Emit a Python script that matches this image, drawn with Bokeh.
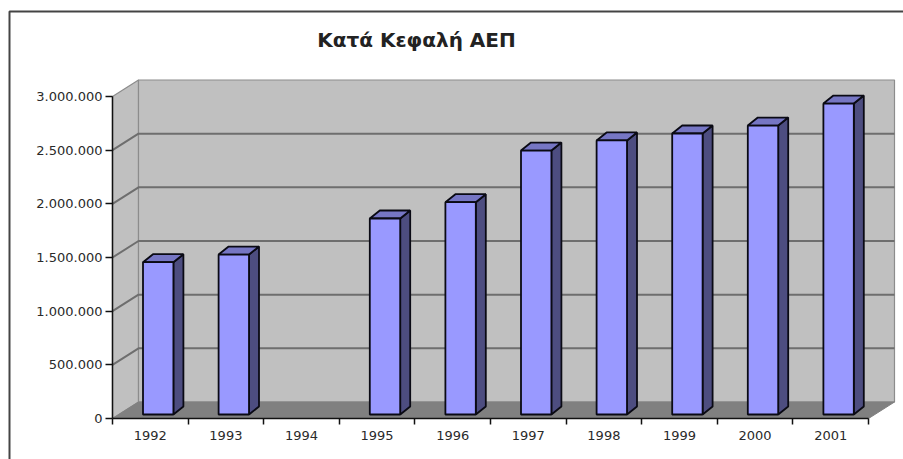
from bokeh.plotting import figure
from bokeh.models import Range1d, LinearAxis, FixedTicker, Label
from bokeh.embed import file_html
from bokeh.resources import INLINE

title_text = "Κατά Κεφαλή ΑΕΠ"
years = ["1992", "1993", "1994", "1995", "1996", "1997", "1998", "1999", "2000", "2001"]
values = [1419000, 1490000, None, 1826000, 1978000, 2459000, 2553000, 2618000, 2692000, 2897000]
y_ticks = [0, 500000, 1000000, 1500000, 2000000, 2500000, 3000000]
y_labels = ["0", "500.000", "1.000.000", "1.500.000", "2.000.000", "2.500.000", "3.000.000"]

W, H = 903, 459
X0, CAT_W = 112.0, 75.6      # px of first category edge, px per category
Y0, PX_PER_UNIT = 418.0, 53.67 / 500000.0

def dx(px):  # horizontal pixel distance to data units
    return px / CAT_W

def dy(px):
    return px / PX_PER_UNIT

x_start = -X0 / CAT_W
x_end = (W - X0) / CAT_W
y_start = (Y0 - H) / PX_PER_UNIT
y_end = Y0 / PX_PER_UNIT

p = figure(width=W, height=H, output_backend="svg", toolbar_location=None,
           x_range=Range1d(x_start, x_end), y_range=Range1d(y_start, y_end),
           x_axis_type=None, y_axis_type=None, min_border=0,
           outline_line_color=None, background_fill_color="white",
           border_fill_color="white")
p.grid.visible = False

n = len(years)
ymax = y_ticks[-1]
WALL_X, WALL_Y = dx(26), dy(16.5)

# side wall, floor, back wall
p.patch([0, WALL_X, WALL_X, 0], [0, WALL_Y, ymax + WALL_Y, ymax],
        fill_color="#C0C0C0", line_color="#8C8C8C", line_width=1.2)
p.quad(left=WALL_X, right=n + WALL_X, bottom=WALL_Y, top=ymax + WALL_Y,
       fill_color="#C0C0C0", line_color="#8C8C8C", line_width=1.2)
p.patch([0, WALL_X, n + WALL_X, n], [0, WALL_Y, WALL_Y, 0],
        fill_color="#808080", line_color="#808080")
# gridlines
grid = y_ticks[1:-1]
p.multi_line([[0, WALL_X, n + WALL_X] for _ in grid],
             [[t, t + WALL_Y, t + WALL_Y] for t in grid],
             line_color="#6E6E6E", line_width=2)

# bars
BAR_L, BAR_W = dx(30.5), dx(30.4)
BAR_LIFT = dy(4)
DEPTH_X, DEPTH_Y = dx(10), dy(8)
for i, v in enumerate(values):
    if v is None:
        continue
    l = i + BAR_L
    r = l + BAR_W
    b = BAR_LIFT
    t = v + BAR_LIFT
    p.patch([r, r + DEPTH_X, r + DEPTH_X, r], [b, b + DEPTH_Y, t + DEPTH_Y, t],
            fill_color="#4D4D80", line_color="#0A0A14", line_width=1.8)
    p.patch([l, l + DEPTH_X, r + DEPTH_X, r], [t, t + DEPTH_Y, t + DEPTH_Y, t],
            fill_color="#7676C4", line_color="#0A0A14", line_width=1.8)
    p.quad(left=l, right=r, bottom=b, top=t,
           fill_color="#9999FF", line_color="#0A0A14", line_width=1.8)

# axes
yax = LinearAxis(fixed_location=0, ticker=FixedTicker(ticks=y_ticks),
                 major_label_overrides=dict(zip(y_ticks, y_labels)), bounds=(0, ymax))
yax.major_tick_out = 7
yax.major_tick_in = 0
yax.minor_tick_out = 0
yax.axis_line_color = "#111111"
yax.axis_line_width = 1.5
yax.major_tick_line_color = "#111111"
yax.major_tick_line_width = 1.5
yax.major_label_standoff = 3
yax.major_label_text_font = "DejaVu Sans"
yax.major_label_text_font_size = "13px"
yax.major_label_text_color = "#2A2A2A"
p.add_layout(yax, "left")

centers = [i + 0.5 for i in range(n)]
xax = LinearAxis(fixed_location=0,
                 ticker=FixedTicker(ticks=centers, minor_ticks=list(range(n + 1))),
                 major_label_overrides=dict(zip(centers, years)), bounds=(0, n))
xax.major_tick_out = 0
xax.major_tick_in = 0
xax.minor_tick_out = 6
xax.minor_tick_in = 0
xax.axis_line_color = "#111111"
xax.axis_line_width = 1.5
xax.minor_tick_line_color = "#111111"
xax.minor_tick_line_width = 1.5
xax.major_label_standoff = 6
xax.major_label_orientation = "horizontal"
xax.major_label_text_font = "DejaVu Sans"
xax.major_label_text_font_size = "13px"
xax.major_label_text_color = "#2A2A2A"
p.add_layout(xax, "below")

# chart-area border: left and top edges only, like the cropped original
border_x = x_start + dx(9)
border_y = y_end - dy(11)
p.line([border_x, border_x, x_end], [y_start, border_y, border_y],
       line_color="#444444", line_width=2)

p.add_layout(Label(x=x_start + dx(416), y=y_end - dy(39), text=title_text,
                   text_align="center", text_baseline="middle",
                   text_font="DejaVu Sans", text_font_style="bold",
                   text_font_size="20px", text_color="#222222"))

open("out.html", "w").write(file_html(p, INLINE))
